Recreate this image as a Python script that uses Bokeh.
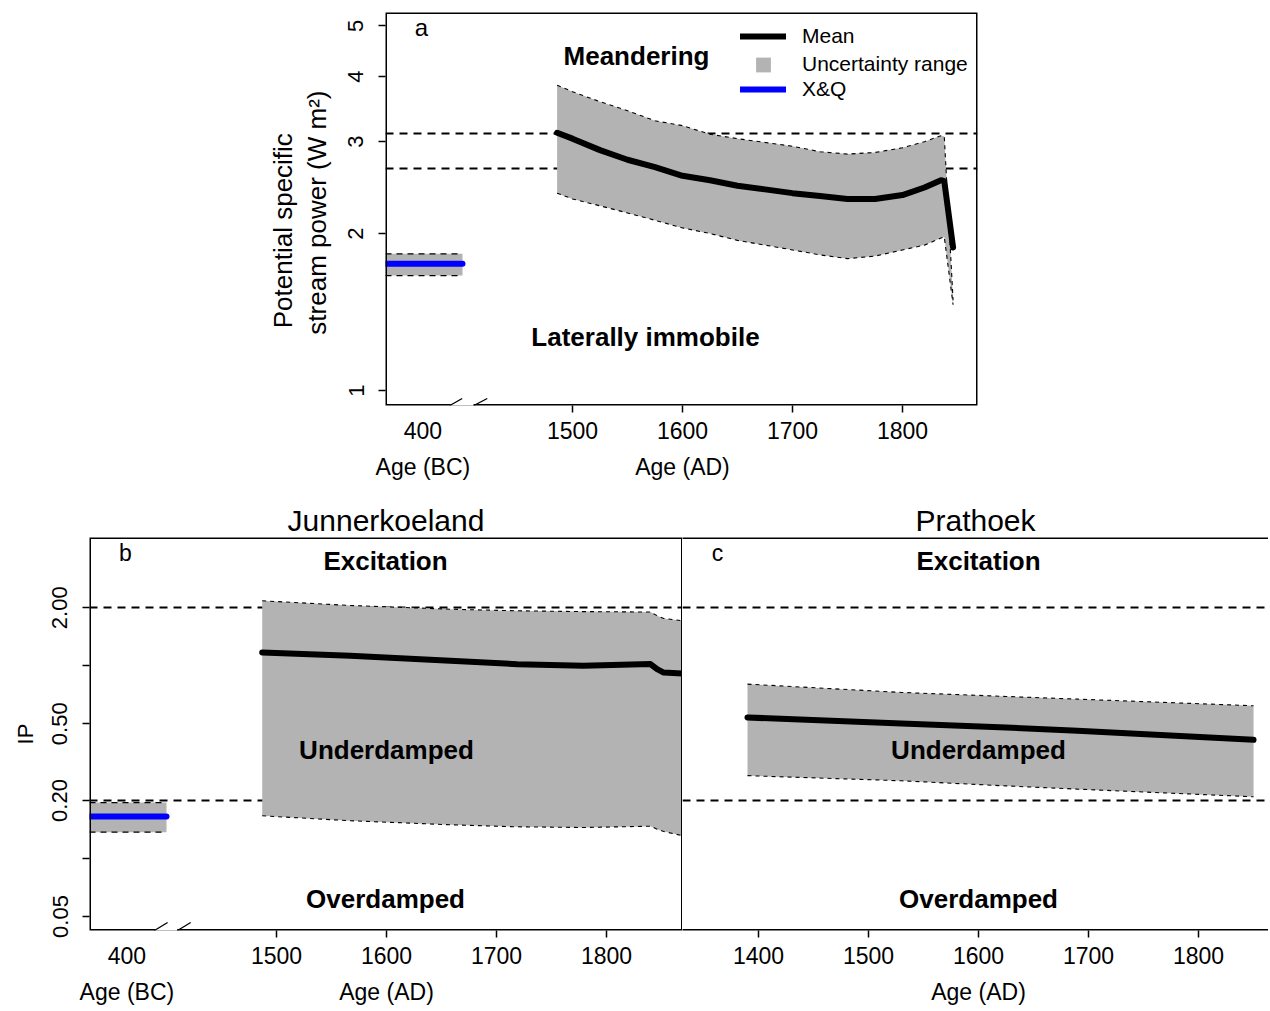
import math
from bokeh.plotting import figure
from bokeh.models import (Range1d, FixedTicker, Label, BoxAnnotation, Arrow, Legend, Title,
                          LegendItem, CustomJSTickFormatter, BasicTickFormatter, LinearAxis)
from bokeh.layouts import column, row
from bokeh.embed import file_html
from bokeh.resources import INLINE

# ---------------------------------------------------------------- data
# Panel a : potential specific stream power (W m-2)
a_years = [1486, 1500, 1525, 1550, 1575, 1600, 1625, 1650, 1675, 1700, 1725, 1750,
           1775, 1800, 1820, 1835, 1838, 1846]
a_mean = [3.12, 3.04, 2.89, 2.77, 2.68, 2.58, 2.53, 2.47, 2.43, 2.39, 2.36, 2.33,
          2.33, 2.37, 2.45, 2.53, 2.52, 1.88]
a_upper = [3.85, 3.74, 3.58, 3.44, 3.29, 3.22, 3.10, 3.04, 2.99, 2.94, 2.87, 2.84,
           2.86, 2.92, 3.00, 3.08, 3.07, 1.49]
a_lower = [2.39, 2.33, 2.26, 2.19, 2.12, 2.05, 2.00, 1.94, 1.90, 1.86, 1.82, 1.79,
           1.81, 1.86, 1.90, 1.96, 1.97, 1.46]
a_thresholds = [2.665, 3.11]
a_xq = {"low": 1.661, "mean": 1.750, "high": 1.828}

# Panel b : IP Junnerkoeland
b_years = [1487, 1567, 1658, 1719, 1779, 1840, 1846, 1852, 1870]
b_mean = [1.172, 1.127, 1.061, 1.019, 0.999, 1.020, 0.960, 0.922, 0.912]
b_upper = [2.173, 2.055, 1.965, 1.928, 1.910, 1.900, 1.820, 1.760, 1.710]
b_lower = [0.1665, 0.157, 0.1496, 0.146, 0.1448, 0.147, 0.142, 0.138, 0.131]
b_xq = {"low": 0.137, "mean": 0.165, "high": 0.195}

# Panel c : IP Prathoek
c_years = [1390, 1530, 1625, 1690, 1850]
c_mean = [0.539, 0.502, 0.478, 0.460, 0.413]
c_upper = [0.803, 0.727, 0.693, 0.671, 0.620]
c_lower = [0.269, 0.253, 0.238, 0.229, 0.209]

ip_thresholds = [0.2, 2.0]

# BC block (X&Q) sits on the broken part of the age axis
bc_span = [1330, 1400]
bc_tick_pos = 1364
ab_tick_marks = [1500, 1600, 1700, 1800]
ab_label_ticks = [bc_tick_pos, 1500, 1600, 1700, 1800]
ab_tick_labels = ["400\nAge (BC)", "1500", "1600\nAge (AD)", "1700", "1800"]
c_tick_marks = [1400, 1500, 1600, 1700, 1800]
c_tick_labels = ["1400", "1500", "1600\nAge (AD)", "1700", "1800"]
a_yticks = [1, 2, 3, 4, 5]
ip_yticks = [0.05, 0.1, 0.2, 0.5, 1, 2]
ip_ytick_labels = ["0.05", "", "0.20", "0.50", "", "2.00"]

# ---------------------------------------------------------------- style
FONT = "Liberation Sans"
GREY = "#b3b3b3"
BLUE = "#0000ff"
NB = "\u00a0"

# frames in pixel coordinates (left, bottom) used for the in-frame texts
FA = (385, 405)
FB = (89, 933)
FC = (682, 933)

MAP_FMT = """
    for (let i = 0; i < vals.length; i++) {
        if (Math.abs(vals[i] - tick) < 1e-6 * Math.max(1, Math.abs(vals[i]))) return labs[i];
    }
    return "";
"""


def make_fig(width, height, xr, yr, bl, br, bt, bb, yaxis=True):
    p = figure(width=width, height=height, x_range=Range1d(*xr), y_range=Range1d(*yr),
               y_axis_type="log", output_backend="svg", toolbar_location=None, title=None,
               y_axis_location="left" if yaxis else None, min_border=0,
               min_border_left=bl, min_border_right=br, min_border_top=bt, min_border_bottom=bb,
               outline_line_color=None, background_fill_color="white",
               border_fill_color="white")
    p.grid.visible = False
    for ax in p.axis:
        ax.axis_line_color = None
        ax.major_tick_in = 0
        ax.major_tick_out = 7
        ax.major_tick_line_width = 1.5
        ax.major_tick_line_color = "black"
        ax.minor_tick_line_color = None
        ax.major_label_text_font = FONT
        ax.major_label_text_font_size = "22px"
        ax.major_label_text_color = "black"
        ax.axis_label_text_font = FONT
        ax.axis_label_text_font_style = "normal"
        ax.axis_label_text_color = "black"
    return p


def setup_x(p, mark_ticks, label_ticks, labels, standoff):
    ax1 = p.xaxis[0]
    ax1.ticker = FixedTicker(ticks=mark_ticks)
    ax1.formatter = CustomJSTickFormatter(code="return '';")
    ax1.major_label_text_font_size = "0px"
    ax1.major_label_standoff = 0
    ax2 = LinearAxis(ticker=FixedTicker(ticks=label_ticks),
                     formatter=CustomJSTickFormatter(args=dict(vals=label_ticks, labs=labels),
                                                     code=MAP_FMT),
                     axis_line_color=None, major_tick_in=0, major_tick_out=0,
                     major_tick_line_color=None, minor_tick_line_color=None,
                     major_label_standoff=standoff, major_label_text_font=FONT,
                     major_label_text_font_size="23px", major_label_text_color="black",
                     major_label_text_line_height=1.40)
    p.add_layout(ax2, "below")


def label(p, frame, rx, ry, text, size, bold=False):
    fl, fb = frame
    p.add_layout(Label(x=rx - fl, y=fb - ry, x_units="screen", y_units="screen", text=text,
                       text_font=FONT, text_font_size=f"{size}px",
                       text_font_style="bold" if bold else "normal", text_color="black",
                       text_align="center", text_baseline="middle"))


def frame_box(p, **kw):
    p.add_layout(BoxAnnotation(fill_color=None, fill_alpha=0, line_color="black",
                               line_alpha=1.0, line_width=3, **kw))


def axis_break(p, y0, rise, g):
    # g = (slash1_start, slash1_end, slash2_start, slash2_end) in x data units
    p.add_layout(Arrow(end=None, x_start=g[0] + 0.8, y_start=y0, x_end=g[2] - 0.3, y_end=y0,
                       line_color="white", line_width=5))
    for xs, xe in ((g[0], g[1]), (g[2], g[3])):
        p.add_layout(Arrow(end=None, x_start=xs, y_start=y0, x_end=xe, y_end=y0 * rise,
                           line_color="black", line_width=1.3))


def band(p, x, lo, hi):
    p.varea(x=x, y1=lo, y2=hi, fill_color=GREY)
    p.line(x=x, y=hi, line_color="black", line_width=1.1, line_dash="4 4")
    p.line(x=x, y=lo, line_color="black", line_width=1.1, line_dash="4 4")


def xq_block(p, xq):
    p.varea(x=bc_span, y1=[xq["low"]] * 2, y2=[xq["high"]] * 2, fill_color=GREY)
    p.line(x=bc_span, y=[xq["high"]] * 2, line_color="black", line_width=1.3, line_dash="6 5")
    p.line(x=bc_span, y=[xq["low"]] * 2, line_color="black", line_width=1.3, line_dash="6 5")
    return p.line(x=bc_span, y=[xq["mean"]] * 2, line_color=BLUE, line_width=6,
                  line_cap="round")


def one_legend(p, renderer, text, gh, cy, gx=740):
    fl, fb = FA
    p.add_layout(Legend(items=[LegendItem(label=text, renderers=[renderer])],
                        location=(gx - fl, fb - (cy + gh / 2)), glyph_width=46,
                        glyph_height=gh, label_height=gh, padding=0, margin=0, spacing=0,
                        label_standoff=16, label_text_font=FONT, label_text_font_size="21px",
                        label_text_color="black", border_line_color=None,
                        background_fill_alpha=0, inactive_fill_alpha=0))


# ---------------------------------------------------------------- panel a
A_Y = (math.exp(-15 / 226.5), math.exp(378 / 226.5))
pa = make_fig(1268, 497, (1330, 1868.2), A_Y, bl=385, br=291, bt=12, bb=92)
setup_x(pa, ab_tick_marks, ab_label_ticks, ab_tick_labels, 5)
pa.yaxis.ticker = FixedTicker(ticks=a_yticks)
pa.yaxis.formatter = BasicTickFormatter()
pa.yaxis.major_label_orientation = "vertical"
pa.yaxis.major_label_standoff = 15
pa.yaxis.axis_label = "Potential specific" + NB * 6 + "\nstream power (W  m\u00b2)"
pa.yaxis.axis_label_text_font_size = "26px"
pa.yaxis.axis_label_text_line_height = 1.12
pa.yaxis.axis_label_standoff = 14

pa.hspan(y=a_thresholds, line_color="black", line_width=1.8, line_dash="8 6")
band(pa, a_years, a_lower, a_upper)
r_mean = pa.line(x=a_years, y=a_mean, line_color="black", line_width=6, line_cap="round",
                 line_join="round")
r_xq = xq_block(pa, a_xq)
r_unc = pa.scatter(x=a_years, y=a_mean, marker="square", size=15, fill_color=GREY,
                   line_color=None, visible=False)

one_legend(pa, r_mean, "Mean", 20, 38)
one_legend(pa, r_unc, "Uncertainty range", 37, 64)
one_legend(pa, r_xq, "X&Q", 20, 91)

frame_box(pa)
axis_break(pa, A_Y[0], math.exp(7 / 226.5), (1388.5, 1399.7, 1410.3, 1422.5))

label(pa, FA, 421, 27, "a", 24)
label(pa, FA, 636, 55, "Meandering", 26, bold=True)
label(pa, FA, 645, 336, "Laterally immobile", 26, bold=True)

# ---------------------------------------------------------------- panels b, c
IP_Y = (0.05 * math.exp(-14 / 83.7), 0.05 * math.exp(379 / 83.7))

pb = make_fig(682, 513, (1330, 1869.1), IP_Y, bl=89, br=0, bt=40, bb=80)
setup_x(pb, ab_tick_marks, ab_label_ticks, ab_tick_labels, 5)
pb.yaxis.ticker = FixedTicker(ticks=ip_yticks)
pb.yaxis.formatter = CustomJSTickFormatter(args=dict(vals=ip_yticks, labs=ip_ytick_labels),
                                           code=MAP_FMT)
pb.yaxis.major_label_orientation = "vertical"
pb.yaxis.major_label_standoff = 15
pb.yaxis.axis_label = "IP"
pb.yaxis.axis_label_text_font_size = "22px"
pb.yaxis.axis_label_standoff = 12
pb.add_layout(Title(text="Junnerkoeland", align="center", text_font=FONT,
                    text_font_size="30px", text_font_style="normal", text_color="black",
                    standoff=1), "above")

pb.hspan(y=ip_thresholds, line_color="black", line_width=1.8, line_dash="8 6")
band(pb, b_years, b_lower, b_upper)
pb.line(x=b_years, y=b_mean, line_color="black", line_width=6, line_cap="round",
        line_join="round")
xq_block(pb, b_xq)
frame_box(pb)
axis_break(pb, IP_Y[0], math.exp(8 / 83.7), (1389, 1401, 1410, 1422))

label(pb, FB, 125, 555, "b", 23)
label(pb, FB, 385, 563, "Excitation", 26, bold=True)
label(pb, FB, 386, 752, "Underdamped", 26, bold=True)
label(pb, FB, 385, 901, "Overdamped", 26, bold=True)

pc = make_fig(586, 513, (1330.9, 1863.6), IP_Y, bl=0, br=0, bt=40, bb=80, yaxis=False)
setup_x(pc, c_tick_marks, c_tick_marks, c_tick_labels, 5)
pc.add_layout(Title(text="Prathoek", align="center", offset=3, text_font=FONT,
                    text_font_size="30px", text_font_style="normal", text_color="black",
                    standoff=1), "above")
pc.hspan(y=ip_thresholds, line_color="black", line_width=1.8, line_dash="8 6")
band(pc, c_years, c_lower, c_upper)
pc.line(x=c_years, y=c_mean, line_color="black", line_width=6, line_cap="round",
        line_join="round")
frame_box(pc, left=1300, right=1950)

label(pc, FC, 717, 555, "c", 23)
label(pc, FC, 978, 563, "Excitation", 26, bold=True)
label(pc, FC, 978, 752, "Underdamped", 26, bold=True)
label(pc, FC, 978, 901, "Overdamped", 26, bold=True)

layout = column(pa, row(pb, pc))
open("out.html", "w").write(file_html(layout, INLINE))
